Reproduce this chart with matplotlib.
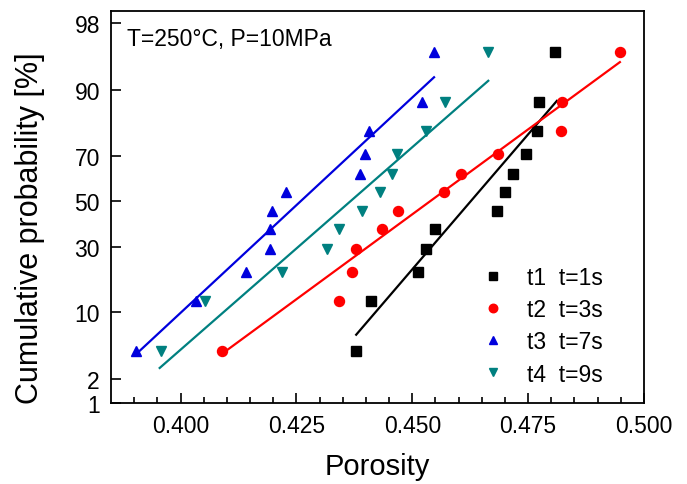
import numpy as np
import matplotlib
matplotlib.use('Agg')
import matplotlib.pyplot as plt
from statistics import NormalDist

plt.rcParams['font.family'] = ['Liberation Sans', 'DejaVu Sans']

# cumulative probability of each rank (%), same for all series (12 samples)
prob = [4.2, 12.5, 20.8, 29.2, 37.5, 45.8, 54.2, 62.5, 70.8, 79.2, 87.5, 95.8]

# porosity values
t1_x = [0.4379, 0.4412, 0.4512, 0.4530, 0.4548, 0.4683,
        0.4700, 0.4718, 0.4746, 0.4769, 0.4774, 0.4808]
t2_x = [0.4090, 0.4341, 0.4370, 0.4378, 0.4434, 0.4470,
        0.4569, 0.4606, 0.4686, 0.4820, 0.4823, 0.4949]
t3_x = [0.3903, 0.4034, 0.4141, 0.4193, 0.4193, 0.4198,
        0.4227, 0.4387, 0.4398, 0.4407, 0.4520, 0.4546]
t4_x = [0.3958, 0.4052, 0.4220, 0.4315, 0.4342, 0.4392,
        0.4430, 0.4456, 0.4468, 0.4530, 0.4570, 0.4663]

# fitted lines (end points)
fit1_x, fit1_p = [0.4379, 0.4812], [6.2, 87.7]
fit2_x, fit2_p = [0.4090, 0.4948], [3.95, 94.6]
fit3_x, fit3_p = [0.3903, 0.4547], [3.85, 92.4]
fit4_x, fit4_p = [0.3955, 0.4664], [2.73, 91.8]

labels = ['t1  t=1s', 't2  t=3s', 't3  t=7s', 't4  t=9s']
y_ticks = [1, 2, 10, 30, 50, 70, 90, 98]

# normal probability scale for the y axis
nd = NormalDist()


def to_z(p):
    p = np.clip(np.asarray(p, dtype=float) / 100.0, 1e-9, 1 - 1e-9)
    return np.vectorize(nd.inv_cdf, otypes=[float])(p)


def from_z(z):
    z = np.asarray(z, dtype=float)
    return np.vectorize(nd.cdf, otypes=[float])(z) * 100.0


fig = plt.figure(figsize=(6.87, 4.85), dpi=100)
ax = fig.add_axes([0.1616, 0.167, 0.7758, 0.8083])
ax.set_yscale('function', functions=(to_z, from_z))

series = [
    (t1_x, fit1_x, fit1_p, 's', 'black', 6.5),
    (t2_x, fit2_x, fit2_p, 'o', 'red', 7.2),
    (t3_x, fit3_x, fit3_p, '^', '#0000dd', 7.5),
    (t4_x, fit4_x, fit4_p, 'v', '#008080', 7.5),
]
for (xs, fx, fp, mk, col, ms), lab in zip(series, labels):
    ax.plot(fx, fp, '-', color=col, linewidth=1.6)
    ax.plot(xs, prob, linestyle='none', marker=mk, color=col,
            markersize=ms, label=lab)

ax.set_xlim(0.385, 0.500)
ax.set_ylim(1, 98.6)
ax.set_xticks([0.400, 0.425, 0.450, 0.475, 0.500])
ax.set_xticklabels(['0.400', '0.425', '0.450', '0.475', '0.500'])
ax.set_xticks(np.arange(0.390, 0.5001, 0.005), minor=True)
ax.set_yticks(y_ticks)
ax.set_yticklabels([str(v) for v in y_ticks])
ax.yaxis.set_minor_locator(matplotlib.ticker.NullLocator())

ax.tick_params(axis='both', which='major', direction='in', length=7, width=1.2,
               labelsize=16.5, top=False, right=False)
ax.tick_params(axis='x', which='major', pad=8)
ax.tick_params(axis='y', which='major', pad=8)
ax.tick_params(axis='x', which='minor', direction='in', length=4, width=1.2,
               top=False)
for sp in ax.spines.values():
    sp.set_linewidth(1.3)

ax.set_xlabel('Porosity', fontsize=21, labelpad=11)
ax.set_ylabel('Cumulative probability [%]', fontsize=22)
ax.yaxis.set_label_coords(-0.124, 0.448)

ax.text(0.03, 0.929, 'T=250\u00b0C, P=10MPa', transform=ax.transAxes,
        fontsize=16.5, va='center', ha='left')

ax.legend(loc='lower right', bbox_to_anchor=(0.962, -0.008), frameon=False,
          fontsize=16.5, markerscale=0.85, handlelength=1.0, handletextpad=1.0,
          labelspacing=0.4)

plt.savefig('out.png', dpi=100)
plt.close()
